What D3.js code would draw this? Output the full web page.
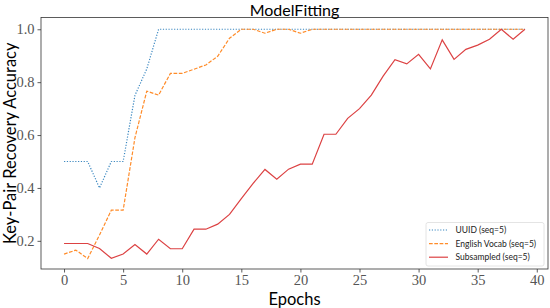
<!DOCTYPE html>
<html><head><meta charset="utf-8">
<script src="https://cdn.jsdelivr.net/npm/d3@7"></script>
<style>body{margin:0;background:#fff}</style>
</head><body>
<svg id="chart" width="550" height="308"></svg>
<script>
const epochs = d3.range(0, 40);
const uuid = [0.5,0.5,0.5,0.4,0.5,0.5,0.75,0.85,1.0,1.0,1.0,1.0,1.0,1.0,1.0,1.0,1.0,1.0,1.0,1.0,1.0,1.0,1.0,1.0,1.0,1.0,1.0,1.0,1.0,1.0,1.0,1.0,1.0,1.0,1.0,1.0,1.0,1.0,1.0,1.0];
const english = [0.15,0.165,0.133,0.222,0.316,0.316,0.59,0.766,0.751,0.833,0.833,0.849,0.865,0.898,0.966,1.0,1.0,0.985,1.0,1.0,0.985,1.0,1.0,1.0,1.0,1.0,1.0,1.0,1.0,1.0,1.0,1.0,1.0,1.0,1.0,1.0,1.0,1.0,1.0,1.0];
const subsampled = [0.19,0.19,0.19,0.171,0.134,0.15,0.186,0.15,0.206,0.17,0.17,0.244,0.244,0.263,0.30,0.36,0.417,0.47,0.433,0.471,0.49,0.49,0.603,0.603,0.663,0.70,0.751,0.823,0.885,0.869,0.905,0.85,0.96,0.886,0.924,0.94,0.962,1.0,0.962,1.0];
const seriesNames = ["UUID (seq=5)","English Vocab (seq=5)","Subsampled (seq=5)"];
const xTicks = [0,5,10,15,20,25,30,35,40];
const yTicks = [0.2,0.4,0.6,0.8,1.0];
const titleText = "ModelFitting";
const xLabel = "Epochs";
const yLabel = "Key-Pair Recovery Accuracy";

const series = [
  {name: seriesNames[0], values: uuid, color: "#3a87c0", dash: "1.2,1.6"},
  {name: seriesNames[1], values: english, color: "#ff8c2a", dash: "3.7,1.6"},
  {name: seriesNames[2], values: subsampled, color: "#dc4243", dash: null}
];

const L = 41, R = 548, T = 17.5, B = 269;
const svg = d3.select("#chart");
const x = d3.scaleLinear().domain([-1.95, 40.95]).range([L, R]);
const y = d3.scaleLinear().domain([0.0935, 1.0445]).range([B, T]);

const serif = "'Liberation Serif','DejaVu Serif',serif";
const sans = "Lato,'DejaVu Sans',sans-serif";

svg.append("clipPath").attr("id","clip").append("rect")
  .attr("x", L).attr("y", T).attr("width", R-L).attr("height", B-T);

const line = d3.line().x((d,i)=>x(epochs[i])).y(d=>y(d));
const g = svg.append("g").attr("clip-path","url(#clip)");
series.forEach(s => {
  g.append("path").datum(s.values)
    .attr("d", line)
    .attr("fill","none")
    .attr("stroke", s.color)
    .attr("stroke-width", 1.2)
    .attr("stroke-dasharray", s.dash);
});

// axes
const xAxis = svg.append("g").attr("transform",`translate(0,${B})`)
  .call(d3.axisBottom(x).tickValues(xTicks).tickSize(3.5).tickPadding(2.5).tickFormat(d3.format("d")));
const yAxis = svg.append("g").attr("transform",`translate(${L},0)`)
  .call(d3.axisLeft(y).tickValues(yTicks).tickSize(3.5).tickPadding(3).tickFormat(d3.format(".1f")));
[xAxis,yAxis].forEach(a=>{
  a.select(".domain").remove();
  a.selectAll("line").attr("stroke","#333").attr("stroke-width",0.8);
  a.selectAll("text").attr("font-family", serif).attr("font-size", 14.5).attr("fill","#555");
});

// spines
svg.append("rect").attr("x",L).attr("y",T).attr("width",R-L).attr("height",B-T)
  .attr("fill","none").attr("stroke","#333").attr("stroke-width",0.8);

// title and labels
svg.append("text").attr("x",(L+R)/2).attr("y",15.5).attr("text-anchor","middle")
  .attr("font-family",sans).attr("font-size",16).attr("fill","#000").text(titleText);
svg.append("text").attr("x",(L+R)/2).attr("y",305).attr("text-anchor","middle")
  .attr("font-family",sans).attr("font-size",16.5).attr("fill","#000").text(xLabel);
svg.append("text").attr("transform",`translate(16,${(T+B)/2}) rotate(-90)`).attr("text-anchor","middle")
  .attr("font-family",sans).attr("font-size",16.5).attr("fill","#000").text(yLabel);

// legend
const lg = svg.append("g");
lg.append("rect").attr("x",426).attr("y",222.5).attr("width",118).attr("height",43.5)
  .attr("rx",2).attr("fill","#fff").attr("fill-opacity",0.8).attr("stroke","#ddd").attr("stroke-width",0.8);
series.forEach((s,i)=>{
  const yy = 230 + i*13.6;
  lg.append("line").attr("x1",429).attr("x2",448).attr("y1",yy).attr("y2",yy)
    .attr("stroke",s.color).attr("stroke-width",1.2).attr("stroke-dasharray",s.dash);
  lg.append("text").attr("x",455.5).attr("y",yy+3).attr("font-family",sans).attr("font-size",8.5)
    .attr("fill","#222").text(s.name);
});
</script>
</body></html>
